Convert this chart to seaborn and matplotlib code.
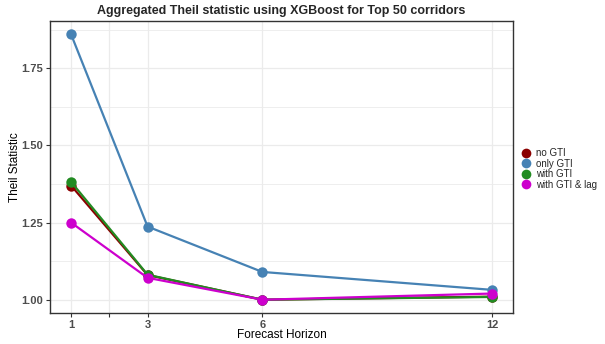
import pandas as pd
import seaborn as sns
import matplotlib.pyplot as plt
from matplotlib.lines import Line2D

# data
horizons = [1, 3, 6, 12]
no_gti = [1.37, 1.08, 1.00, 1.01]
only_gti = [1.86, 1.237, 1.09, 1.032]
with_gti = [1.382, 1.081, 1.00, 1.009]
with_gti_lag = [1.25, 1.071, 1.00, 1.02]

series = ["no GTI", "only GTI", "with GTI", "with GTI & lag"]
colors = ["#8B0000", "#4682B4", "#228B22", "#CD00CD"]

df = pd.DataFrame({
    "horizon": horizons * 4,
    "theil": no_gti + only_gti + with_gti + with_gti_lag,
    "model": [s for s in series for _ in horizons],
})

sns.set_theme(style="whitegrid")
plt.rcParams["font.family"] = ["Liberation Sans", "DejaVu Sans"]

fig, ax = plt.subplots(figsize=(6.05, 3.44), dpi=100)
fig.subplots_adjust(left=50/605, right=513/605, top=1-21/344, bottom=1-313/344)

sns.lineplot(data=df, x="horizon", y="theil", hue="model", hue_order=series,
             palette=colors, marker="o", markersize=7.5, markeredgewidth=0,
             linewidth=1.6, legend=False, ax=ax)

ax.set_xlim(0.45, 12.55)
ax.set_ylim(0.957, 1.903)
ax.set_xticks([1, 2, 3, 6, 12])
ax.set_xticklabels(["1", "", "3", "6", "12"])
ax.set_yticks([1.00, 1.25, 1.50, 1.75])
ax.set_yticklabels(["1.00", "1.25", "1.50", "1.75"])
ax.set_yticks([1.125, 1.375, 1.625, 1.875], minor=True)

ax.set_facecolor("white")
ax.grid(True, which="major", color="#EBEBEB", linewidth=0.9)
ax.grid(True, which="minor", axis="y", color="#EBEBEB", linewidth=0.6)
ax.set_axisbelow(True)
for sp in ax.spines.values():
    sp.set_color("#333333")
    sp.set_linewidth(1.0)

ax.tick_params(axis="both", which="major", length=3, width=0.8, color="#333333",
               labelsize=8, labelcolor="#4D4D4D", pad=2, bottom=True, left=True)
ax.tick_params(axis="y", which="minor", length=0)
for lbl in ax.get_xticklabels() + ax.get_yticklabels():
    lbl.set_fontweight("bold")

ax.set_xlabel("Forecast Horizon", fontsize=8.5, color="black")
ax.set_ylabel("Theil Statistic", fontsize=8.5, color="black")
ax.xaxis.set_label_coords(0.5, -(335 - 313) / 292, transform=ax.transAxes)
ax.yaxis.set_label_coords(-(50 - 15) / 463, 0.5, transform=ax.transAxes)
ax.xaxis.label.set_va("center")
ax.yaxis.label.set_va("center")
ax.set_title("Aggregated Theil statistic using XGBoost for Top 50 corridors",
             fontsize=9, fontweight="bold", pad=5)

handles = [Line2D([], [], linestyle="none", marker="o", markersize=7,
                  markerfacecolor=c, markeredgewidth=0) for c in colors]
fig.legend(handles, series, loc="center left", bbox_to_anchor=(521/605, 1-169/344),
           frameon=False, fontsize=7, handletextpad=0.5, labelspacing=0.05,
           handlelength=1.0, borderaxespad=0, borderpad=0)

fig.savefig("out.png", dpi=100)
